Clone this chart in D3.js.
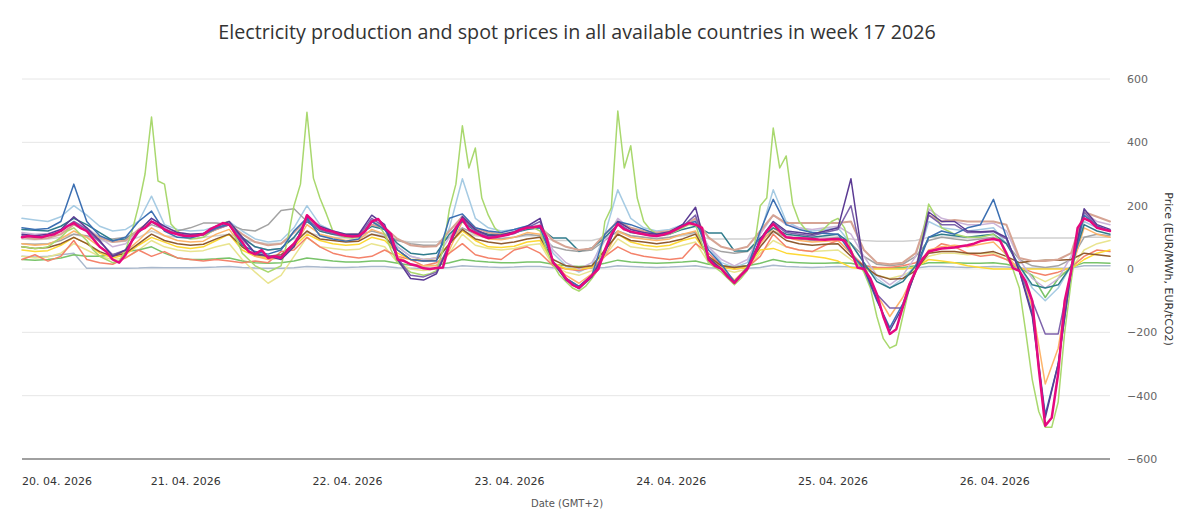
<!DOCTYPE html>
<html>
<head>
<meta charset="utf-8">
<script src="https://cdn.jsdelivr.net/npm/d3@7"></script>
<style>
  body { margin: 0; background: #fff; }
  svg { display: block; }
</style>
</head>
<body>
<div id="chart"></div>
<script>
// Spot prices, EUR/MWh, from 20.04. 00:00 to 27.04. 00:00
// hourly values for the two most visible lines, every 2 hours for the rest
const weekStart = Date.UTC(2026, 3, 20);
const dayLabels = ['20. 04. 2026', '21. 04. 2026', '22. 04. 2026', '23. 04. 2026', '24. 04. 2026', '25. 04. 2026', '26. 04. 2026'];
const yTicks = [-600, -400, -200, 0, 200, 400, 600];

// hourly
const DE = [100,104,102,100,106,110,120,135,145,130,120,95,70,55,30,20,45,90,120,130,150,140,125,115,
  110,105,104,106,110,125,135,145,140,110,85,55,47,60,35,40,35,60,80,110,170,150,130,122,
  118,110,105,103,104,120,150,158,130,110,30,25,15,10,2,0,3,5,80,130,158,125,115,105,
  98,100,104,108,115,125,130,132,136,100,20,0,-30,-50,-60,-40,-20,0,60,110,142,125,118,114,
  110,106,104,108,115,125,135,145,140,130,30,10,0,-25,-44,-20,0,40,88,120,142,120,100,98,
  97,96,95,93,92,94,95,90,57,5,0,-30,-80,-150,-205,-190,-120,-50,-6,30,55,60,65,66,
  68,72,75,80,88,92,95,90,50,3,-6,-40,-101,-313,-495,-470,-330,-101,-6,130,160,150,130,125,120];
const AT = [70,68,65,66,70,85,100,120,130,110,90,60,40,30,20,25,60,120,200,300,480,278,268,142,
  120,100,95,96,100,115,130,145,150,100,50,30,10,0,-10,0,10,90,200,268,495,287,224,174,
  120,110,100,98,100,120,150,140,110,60,20,5,-10,-15,-20,-15,-5,60,190,268,452,319,382,224,
  170,130,110,110,115,125,130,130,120,60,15,-20,-40,-60,-70,-55,-30,0,150,193,499,319,389,224,
  150,125,110,108,110,120,130,140,140,80,20,5,-10,-30,-50,-30,-5,60,200,224,445,319,357,205,
  150,125,110,115,130,150,160,130,60,20,-10,-60,-150,-220,-250,-240,-150,-60,-10,100,205,170,130,120,
  110,105,100,100,100,105,110,90,40,0,-60,-200,-350,-450,-500,-500,-420,-200,-40,100,160,150,130,125,120];

// every 2 hours
const NL = [110,105,110,125,165,130,90,40,60,120,160,135, 115,110,112,135,150,100,50,40,30,70,165,135, 120,110,110,170,140,30,-30,-35,-15,75,165,125, 105,108,118,135,160,20,-35,-62,-25,50,150,125, 115,110,118,140,195,35,0,-44,0,95,150,120, 115,110,120,130,285,5,-95,-195,-120,-5,180,150, 150,120,118,120,100,-6,-150,-470,-300,-6,190,140,125];
const BE = [130,125,128,150,268,150,105,88,100,150,183,120, 100,98,110,130,142,75,55,47,60,120,161,105, 95,88,95,150,125,60,30,25,25,160,174,130, 120,115,125,136,130,25,-30,-55,-20,110,150,140, 125,110,115,140,150,60,15,-40,5,120,220,140, 125,115,112,110,50,0,-100,-185,-110,-5,100,120, 110,130,140,220,100,-6,-140,-460,-300,-6,170,135,120];
const FR = [80,75,78,95,120,100,70,45,55,90,130,105, 90,85,88,110,125,70,40,30,35,70,140,110, 100,90,92,125,110,40,15,10,10,60,150,110, 95,92,100,115,110,15,-20,-45,-15,40,120,100, 95,90,95,110,120,30,5,-35,5,80,130,100, 90,85,88,90,50,0,-80,-150,-90,-5,60,70, 75,70,78,85,45,-5,-120,-363,-250,-5,130,110,100];
const CH = [60,55,58,75,100,80,50,35,45,75,100,85, 70,65,70,90,110,60,40,35,40,70,110,90, 80,75,78,100,90,50,30,30,35,80,120,90, 70,68,72,85,90,20,0,0,5,60,110,85, 75,70,75,90,100,40,5,0,5,60,65,50, 45,40,35,25,5,0,0,0,0,5,30,25, 20,10,5,0,0,0,0,0,0,0,30,50,60];
const ES = [30,45,25,40,90,30,20,15,35,60,40,55, 35,30,25,30,25,20,25,20,55,60,100,70, 50,40,35,40,60,40,30,10,20,50,80,45, 35,30,60,70,50,10,0,-5,5,40,70,50, 40,35,30,35,80,50,10,0,5,40,110,70, 60,55,75,90,50,10,5,5,10,20,50,80, 70,50,40,45,30,5,-10,-20,-10,5,40,60,55];
const PL = [80,78,80,90,110,105,95,95,100,120,140,125, 120,130,145,145,140,125,120,140,185,190,150,120, 110,100,105,120,110,90,80,75,75,100,130,110, 100,95,100,110,105,70,60,55,60,90,120,105, 100,95,100,110,115,70,55,50,55,90,120,100, 95,90,95,100,80,40,15,10,15,40,90,100, 95,90,95,100,80,30,10,5,10,30,100,110,105];
const DK1 = [160,155,150,165,200,170,135,120,125,150,230,140, 125,120,122,135,150,120,95,85,90,130,200,140, 120,110,112,140,125,70,40,30,35,130,285,160, 130,120,125,135,130,50,10,-10,10,110,250,160, 130,120,125,140,150,70,20,5,20,110,250,150, 130,120,125,130,80,20,-30,-60,-30,10,150,130, 125,120,125,130,80,10,-60,-100,-60,10,150,130,120];
const IT = [100,95,98,110,140,120,100,85,90,125,150,125, 110,105,108,125,140,110,85,75,80,115,160,125, 115,108,110,140,130,95,75,70,72,120,165,130, 115,110,115,130,135,90,70,60,65,110,150,130, 120,115,120,135,160,100,70,60,70,120,170,145, 145,145,145,145,150,60,20,15,20,50,170,150, 155,150,150,150,140,35,25,25,30,50,180,165,150];
const CZ = [70,65,68,80,100,80,55,40,50,80,110,90, 80,75,78,95,110,70,45,40,45,80,120,95, 90,85,88,110,100,60,30,25,28,80,125,95, 85,80,85,95,100,30,10,5,10,60,110,90, 85,80,85,95,110,40,10,5,10,70,120,90, 80,75,78,80,40,10,-20,-32,-30,-5,50,55, 55,50,50,55,40,20,25,28,28,30,50,45,40];
const HU = [125,122,120,135,160,140,115,90,95,120,150,125, 110,105,108,125,140,100,70,60,65,100,150,120, 110,105,108,135,125,80,50,45,50,110,150,120, 110,108,115,125,130,98,98,57,66,100,140,115, 110,105,110,125,135,114,114,57,57,98,130,110, 105,100,105,110,80,20,-40,-60,-40,10,100,110, 105,100,105,110,80,10,-50,-60,-50,10,140,120,110];
const PT = [40,35,38,50,80,60,40,30,35,60,90,70, 60,55,58,70,80,30,-10,-45,-20,40,100,70, 65,60,62,80,70,20,0,-5,0,50,110,75, 65,60,65,75,80,10,-10,-20,-5,40,95,70, 65,60,65,75,85,20,0,-10,0,50,90,70, 60,55,58,60,30,0,-20,-30,-20,0,40,50, 50,45,48,50,30,0,-20,-40,-20,0,60,80,90];
const NO2 = [40,38,40,45,50,2,2,2,2,3,5,4, 4,4,5,6,8,5,3,2,2,4,8,6, 5,5,6,8,8,4,2,2,2,5,10,8, 6,5,6,8,8,4,2,2,2,5,10,8, 6,5,6,8,10,4,2,2,2,5,12,8, 6,5,6,8,6,3,2,2,2,3,8,8, 6,5,6,8,6,3,2,2,2,3,10,10,10];
const SE4 = [30,28,30,35,45,40,40,45,55,60,70,50, 35,30,30,32,35,25,20,18,20,25,35,30, 25,22,22,25,25,18,12,10,12,20,30,25, 22,20,20,22,22,15,10,8,10,18,28,22, 20,18,20,22,25,15,10,8,10,18,30,22, 20,18,18,20,18,10,5,3,5,10,20,20, 20,18,18,20,15,5,-20,-90,-30,5,20,20,18];
const GB = [95,92,95,100,110,100,90,85,88,100,120,105, 100,98,100,105,110,95,85,80,82,95,115,105, 100,98,100,110,105,90,85,85,85,100,120,105, 100,98,100,105,105,90,90,90,90,100,115,105, 100,98,100,105,110,95,95,95,95,100,115,105, 100,98,100,100,95,90,88,88,88,90,100,100, 100,98,98,98,98,98,98,98,98,98,100,100,100];
const SK = [115,110,112,125,150,130,100,70,80,120,160,130, 115,110,112,130,145,100,70,60,65,100,160,125, 115,108,110,150,130,70,40,30,35,100,170,125, 110,105,112,130,140,60,20,0,20,90,160,125, 115,110,115,135,155,70,30,10,30,110,170,140, 130,125,130,135,110,40,-20,-50,-20,40,190,160, 150,140,140,145,120,30,-30,-60,-30,40,180,150,140];
const LU = [105,100,105,120,150,125,85,45,60,115,150,125, 110,105,108,128,140,95,50,40,40,75,155,125, 112,105,106,160,132,35,-20,-25,-10,80,160,120, 100,104,112,130,150,22,-30,-55,-20,55,145,118, 110,105,112,135,170,35,0,-40,0,90,145,115, 110,105,115,125,200,10,-80,-123,-123,-5,170,140, 140,115,115,118,95,-5,-100,-205,-205,-6,180,135,120];

// drawing order: pale lines first, highlighted line last
const series = [
  { name: 'NO2', values: NO2, step: 2, color: '#a9b8cc', width: 1.5 },
  { name: 'GB', values: GB, step: 2, color: '#d0d0d0', width: 1.5 },
  { name: 'PT', values: PT, step: 2, color: '#e9e48f', width: 1.5 },
  { name: 'SE4', values: SE4, step: 2, color: '#79c36a', width: 1.5 },
  { name: 'DK1', values: DK1, step: 2, color: '#a6cbe3', width: 1.5 },
  { name: 'PL', values: PL, step: 2, color: '#a3a3a3', width: 1.5 },
  { name: 'ES', values: ES, step: 2, color: '#f4826a', width: 1.5 },
  { name: 'CH', values: CH, step: 2, color: '#fdd835', width: 1.5 },
  { name: 'FR', values: FR, step: 2, color: '#fdb46a', width: 1.5 },
  { name: 'SK', values: SK, step: 2, color: '#cbb4d8', width: 1.5 },
  { name: 'CZ', values: CZ, step: 2, color: '#8f5a2e', width: 1.5 },
  { name: 'HU', values: HU, step: 2, color: '#2f7c8c', width: 1.5 },
  { name: 'IT', values: IT, step: 2, color: '#d6a494', width: 2 },
  { name: 'AT', values: AT, step: 1, color: '#a9d86e', width: 1.5 },
  { name: 'LU', values: LU, step: 2, color: '#7d62ab', width: 1.5 },
  { name: 'BE', values: BE, step: 2, color: '#3b6fb2', width: 1.5 },
  { name: 'NL', values: NL, step: 2, color: '#5b3a93', width: 1.5 },
  { name: 'DE', values: DE, step: 1, color: '#e5097f', width: 2.5 }
];

const width = 1200;
const height = 521;
const plot = { left: 22, right: 1110, top: 79, bottom: 459 };

const svg = d3.select('#chart')
  .append('svg')
  .attr('width', width)
  .attr('height', height)
  .style('font-family', '"DejaVu Sans", Verdana, sans-serif');

const x = d3.scaleUtc()
  .domain([new Date(weekStart), new Date(weekStart + 7 * 864e5)])
  .range([plot.left, plot.right]);

// the day labels sit on their own axis, a little wider than the price data
const xLabels = d3.scaleUtc()
  .domain([new Date(weekStart), new Date(weekStart + 7 * 864e5)])
  .range([24, 24 + 7 * 161.8]);

const y = d3.scaleLinear()
  .domain([-600, 600])
  .range([plot.bottom, plot.top]);

// title
svg.append('text')
  .attr('x', 577)
  .attr('y', 39)
  .attr('text-anchor', 'middle')
  .attr('font-family', '"Open Sans", sans-serif')
  .attr('font-size', '19.7px')
  .attr('fill', '#333')
  .text('Electricity production and spot prices in all available countries in week 17 2026');

// grid
svg.append('g')
  .selectAll('line')
  .data(yTicks.filter(d => d > -600))
  .enter().append('line')
  .attr('x1', plot.left)
  .attr('x2', plot.right)
  .attr('y1', d => y(d))
  .attr('y2', d => y(d))
  .attr('stroke', '#e6e6e6')
  .attr('stroke-width', 1);

// right axis labels
const yAxis = svg.append('g')
  .attr('transform', `translate(${plot.right}, 0)`)
  .call(d3.axisRight(y).tickValues(yTicks).tickSize(0).tickPadding(17).tickFormat(d3.format('d')));
yAxis.select('.domain').remove();
yAxis.selectAll('text')
  .attr('font-size', '11px')
  .attr('fill', '#666')
  .attr('font-family', '"DejaVu Sans", Verdana, sans-serif');

svg.append('text')
  .attr('transform', `translate(1165, ${y(0)}) rotate(90)`)
  .attr('text-anchor', 'middle')
  .attr('font-size', '11px')
  .attr('fill', '#333')
  .text('Price (EUR/MWh, EUR/tCO2)');

// price lines
svg.append('g')
  .attr('fill', 'none')
  .attr('stroke-linejoin', 'round')
  .attr('stroke-linecap', 'round')
  .selectAll('path')
  .data(series)
  .enter().append('path')
  .attr('d', s => d3.line()
    .x((d, i) => x(new Date(weekStart + i * s.step * 36e5)))
    .y(d => y(d))(s.values))
  .attr('stroke', d => d.color)
  .attr('stroke-width', d => d.width)
  .append('title')
  .text(d => d.name);

// bottom axis line
svg.append('line')
  .attr('x1', plot.left)
  .attr('x2', plot.right)
  .attr('y1', plot.bottom)
  .attr('y2', plot.bottom)
  .attr('stroke', '#a0a0a0')
  .attr('stroke-width', 2);

// day labels
svg.append('g')
  .selectAll('text')
  .data(dayLabels)
  .enter().append('text')
  .attr('x', (d, i) => i === 0 ? plot.left : xLabels(new Date(weekStart + i * 864e5)))
  .attr('y', 485)
  .attr('text-anchor', (d, i) => i === 0 ? 'start' : 'middle')
  .attr('font-size', '11px')
  .attr('fill', '#333')
  .text(d => d);

svg.append('text')
  .attr('x', 567)
  .attr('y', 507)
  .attr('text-anchor', 'middle')
  .attr('font-size', '10px')
  .attr('fill', '#555')
  .text('Date (GMT+2)');
</script>
</body>
</html>
